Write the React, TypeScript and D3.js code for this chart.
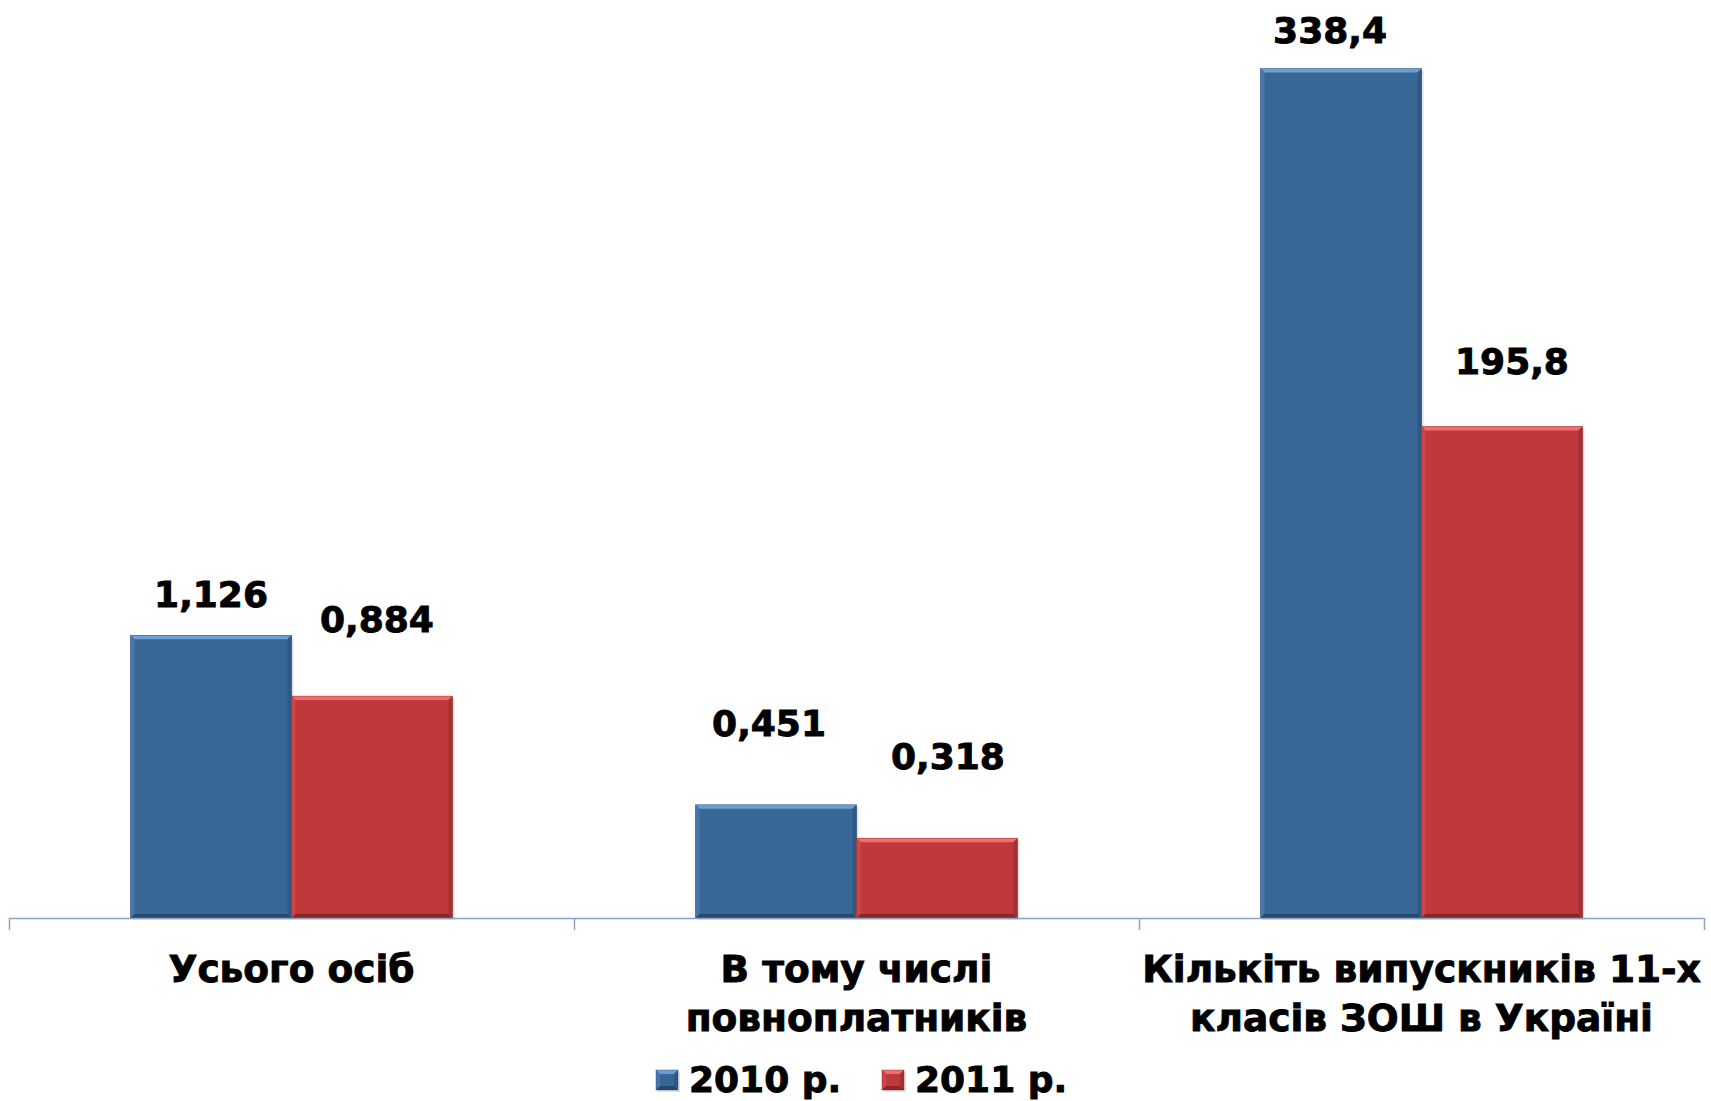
import React from "react";
import * as d3 from "d3";

// ---- data ----
const categories = ["Усього осіб", "В тому числі повноплатників", "Кількіть випускників 11-х класів ЗОШ в Україні"];
const categoryLines = [["Усього осіб"], ["В тому числі", "повноплатників"], ["Кількіть випускників 11-х", "класів ЗОШ в Україні"]];
const seriesNames = ["2010 р.", "2011 р."];
// plotted values (third category drawn at 1/100 of its label value, as in the original)
const values2010 = [1.126, 0.451, 3.384];
const values2011 = [0.884, 0.318, 1.958];
const labels2010 = ["1,126", "0,451", "338,4"];
const labels2011 = ["0,884", "0,318", "195,8"];

const W = 1711;
const H = 1101;
const FONT = "'DejaVu Sans', Verdana, sans-serif";

const palette = [
  { base: "#386697", light: "#6d9fd6", mid: "#4676aa", dark: "#27486d", side: "#2f5884" },
  { base: "#bf383a", light: "#f36d6d", mid: "#cc4547", dark: "#8a2628", side: "#a63133" },
];

// manual label placement tweaks [dx, lift above bar top]
const labelNudge = [
  [[0, 28], [5, 64]],
  [[-7, 69], [11, 69]],
  [[-11, 26], [10, 53]],
];

function Bar({ x, y, w, h, c }: { x: number; y: number; w: number; h: number; c: typeof palette[0] }) {
  const b = 4;
  return (
    <g>
      <rect x={x + 2} y={y + 2} width={w} height={h} fill="#000" opacity={0.12} />
      <rect x={x} y={y} width={w} height={h} fill={c.base} />
      <polygon points={`${x},${y} ${x + w},${y} ${x + w - b},${y + b} ${x + b},${y + b}`} fill={c.light} />
      <polygon points={`${x},${y} ${x + b},${y + b} ${x + b},${y + h - b} ${x},${y + h}`} fill={c.mid} />
      <polygon points={`${x + w},${y} ${x + w},${y + h} ${x + w - b},${y + h - b} ${x + w - b},${y + b}`} fill={c.side} />
      <polygon points={`${x},${y + h} ${x + b},${y + h - b} ${x + w - b},${y + h - b} ${x + w},${y + h}`} fill={c.dark} />
      <rect x={x} y={y} width={w} height={h} fill="none" stroke={c.dark} strokeOpacity={0.5} strokeWidth={0.8} />
    </g>
  );
}

export default function App() {
  const x0 = d3.scaleBand<string>().domain(categories).range([9, 1704]).paddingInner(0).paddingOuter(0);
  const x1 = d3.scaleBand<string>().domain(seriesNames).range([0, x0.bandwidth()]).paddingInner(0).paddingOuter(0.755);
  const y = d3.scaleLinear().domain([0, 3.5]).range([918, 39.5]);
  const series = [
    { name: seriesNames[0], values: values2010, labels: labels2010 },
    { name: seriesNames[1], values: values2011, labels: labels2011 },
  ];
  const baseY = y(0);
  const ticks = [...categories.map((c) => x0(c) as number), 1704];
  const textStyle = { stroke: "#000", strokeWidth: 0.9, paintOrder: "stroke" as const };

  return (
    <svg width={W} height={H} style={{ position: "absolute", left: 0, top: 0 }} fontFamily={FONT}>
      <rect width={W} height={H} fill="#fff" />
      {series.map((s, si) =>
        categories.map((cat, ci) => {
          const bx = (x0(cat) as number) + (x1(s.name) as number);
          const by = y(s.values[ci]);
          return (
            <Bar key={`${si}-${ci}`} x={bx} y={by} w={x1.bandwidth()} h={baseY - by} c={palette[si]} />
          );
        })
      )}
      {/* axis */}
      <line x1={9} x2={1704} y1={baseY + 0.5} y2={baseY + 0.5} stroke="#8da2c4" strokeWidth={1.5} />
      {ticks.map((t, i) => (
        <line key={i} x1={t + 0.5} x2={t + 0.5} y1={baseY} y2={baseY + 12} stroke="#8da2c4" strokeWidth={1.5} />
      ))}
      {/* data labels */}
      {series.map((s, si) =>
        categories.map((cat, ci) => {
          const bx = (x0(cat) as number) + (x1(s.name) as number) + x1.bandwidth() / 2;
          const by = y(s.values[ci]);
          const [dx, lift] = labelNudge[ci][si];
          return (
            <text key={`l${si}-${ci}`} x={bx + dx} y={by - lift} textAnchor="middle" fontSize={36} fontWeight="bold" fill="#000" style={textStyle}>
              {s.labels[ci]}
            </text>
          );
        })
      )}
      {/* category labels */}
      {categories.map((cat, ci) => (
        <text key={cat} x={(x0(cat) as number) + x0.bandwidth() / 2} y={982} textAnchor="middle" fontSize={37.5} fontWeight="bold" fill="#000" style={textStyle}>
          {categoryLines[ci].map((ln, li) => (
            <tspan key={li} x={(x0(cat) as number) + x0.bandwidth() / 2} dy={li === 0 ? 0 : 49}>
              {ln}
            </tspan>
          ))}
        </text>
      ))}
      {/* legend */}
      {seriesNames.map((n, i) => {
        const lx = 656 + i * 226;
        return (
          <g key={n}>
            <Bar x={lx} y={1070} w={22} h={20} c={palette[i]} />
            <text x={lx + 33} y={1092} fontSize={36} fontWeight="bold" fill="#000" style={textStyle}>
              {n}
            </text>
          </g>
        );
      })}
    </svg>
  );
}
